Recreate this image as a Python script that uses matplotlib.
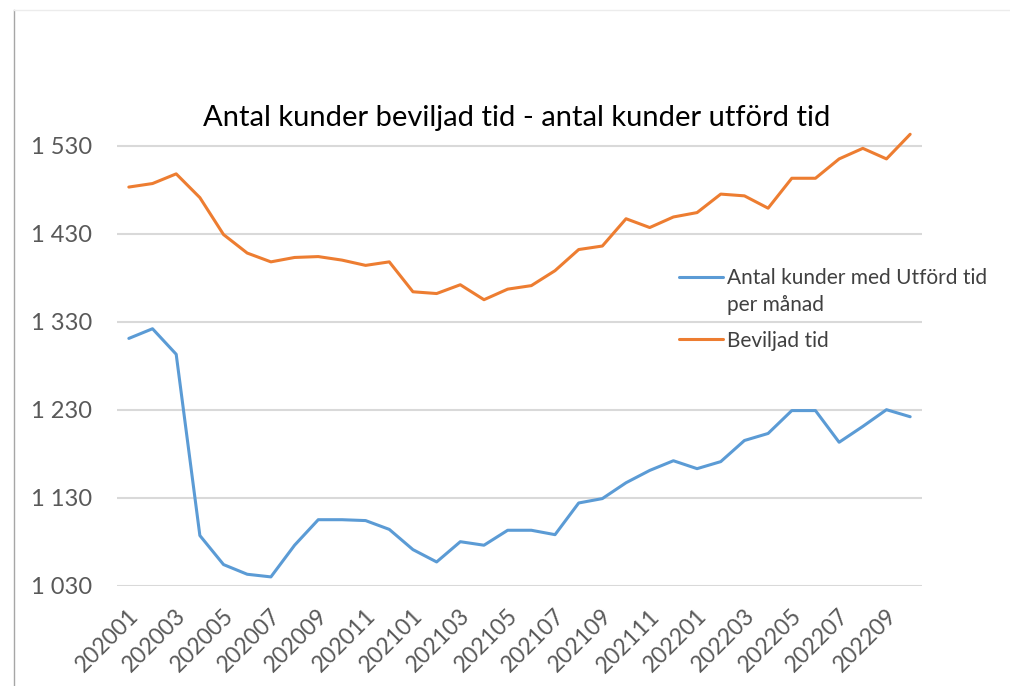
import matplotlib.pyplot as plt
from matplotlib.lines import Line2D
from matplotlib.legend_handler import HandlerLine2D
from matplotlib.transforms import ScaledTranslation

# Months 202001 .. 202210
months = [f'{y}{m:02d}' for y in (2020, 2021, 2022) for m in range(1, 13)][:34]

utford = [1311, 1322, 1293, 1087, 1054, 1043, 1040, 1076, 1105, 1105, 1104, 1094,
          1071, 1057, 1080, 1076, 1093, 1093, 1088, 1124, 1129, 1147, 1161, 1172,
          1163, 1171, 1195, 1203, 1229, 1229, 1193, 1211, 1230, 1222]
beviljad = [1483, 1487, 1498, 1471, 1429, 1408, 1398, 1403, 1404, 1400, 1394, 1398,
            1364, 1362, 1372, 1355, 1367, 1371, 1388, 1412, 1416, 1447, 1437, 1449,
            1454, 1475, 1473, 1459, 1493, 1493, 1515, 1527, 1515, 1543]

yticks = [1030, 1130, 1230, 1330, 1430, 1530]

plt.rcParams['font.family'] = ['Lato', 'DejaVu Sans']

LEG_FS = 15
LEG_LS = 1.45


class FirstLineHandler(HandlerLine2D):
    # Excel puts the legend key next to the first line of a wrapped label
    def __init__(self, shift_pt=0, **kw):
        super().__init__(**kw)
        self.shift_pt = shift_pt

    def create_artists(self, legend, orig_handle, xdescent, ydescent, width, height, fontsize, trans):
        arts = super().create_artists(legend, orig_handle, xdescent, ydescent, width, height, fontsize, trans)
        for a in arts:
            a.set_ydata([y + self.shift_pt for y in a.get_ydata()])
        return arts


fig = plt.figure(figsize=(10.1, 6.86), dpi=100)
ax = fig.add_axes([117/1010, 1 - 585.7/686, 805/1010, (585.7 - 123.7)/686])

x = list(range(len(months)))
l1, = ax.plot(x, utford, color='#5B9BD5', lw=2.2, label='Antal kunder med Utförd tid\nper månad', solid_capstyle='round')
l2, = ax.plot(x, beviljad, color='#ED7D31', lw=2.2, label='Beviljad tid', solid_capstyle='round')

ax.set_xlim(-0.5, len(months) - 0.5)
ax.set_ylim(1030, 1555)
ax.set_yticks(yticks)
ax.set_yticklabels([f'{v:,}'.replace(',', ' ') for v in yticks])
ax.set_xticks(x[::2])
ax.set_xticklabels(months[::2], rotation=45, ha='right', va='top', rotation_mode='anchor')
ax.tick_params(axis='both', length=0, colors='#595959')
ax.tick_params(axis='y', pad=18, labelsize=17)
ax.tick_params(axis='x', pad=12, labelsize=16.5)
off = ScaledTranslation(-0.01, -0.03, fig.dpi_scale_trans)
for lab in ax.get_xticklabels():
    lab.set_transform(lab.get_transform() + off)
ax.grid(axis='y', color='#d9d9d9', lw=1.5)
ax.set_axisbelow(True)
for s in ax.spines.values():
    s.set_visible(False)

fig.text(517/1010, 1 - 118/686, 'Antal kunder beviljad tid - antal kunder utförd tid',
         ha='center', va='center', fontsize=21, color='black')

leg = ax.legend(loc='upper left', bbox_to_anchor=(660/1010, 1 - 249/686),
                bbox_transform=fig.transFigure, frameon=False, fontsize=LEG_FS,
                handlelength=2.1, handletextpad=0.2, labelspacing=0.75,
                handler_map={l1: FirstLineHandler(shift_pt=10.5), l2: FirstLineHandler(shift_pt=0)})
for t in leg.get_texts():
    t.set_color('#404040')
    t.set_linespacing(LEG_LS)

# chart border (partly visible)
fig.add_artist(Line2D([14/1010, 14/1010], [0, 1 - 10/686], color='#a6a6a6', lw=1))
fig.add_artist(Line2D([14/1010, 1], [1 - 10/686, 1 - 10/686], color='#ececec', lw=1))

plt.savefig('out.png', dpi=100)
